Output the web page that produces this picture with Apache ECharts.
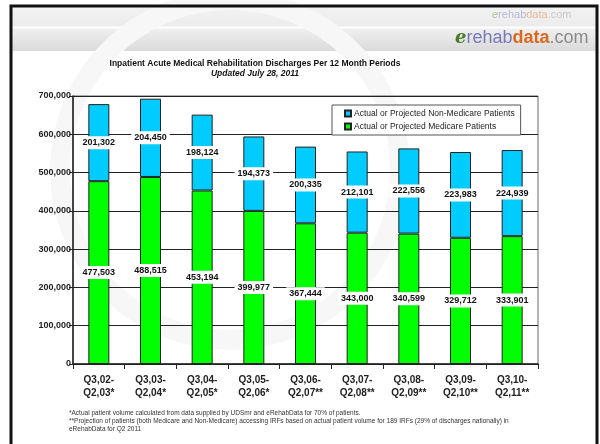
<!DOCTYPE html>
<html>
<head>
<meta charset="utf-8">
<script src="https://cdn.jsdelivr.net/npm/echarts@6/dist/echarts.min.js"></script>
<style>
  html, body { margin: 0; padding: 0; background: #fff; }
  #chart { width: 600px; height: 444px; }
</style>
</head>
<body>
<div id="chart"></div>
<script>
// periods (x axis)
const periods = [
  'Q3,02-\nQ2,03*', 'Q3,03-\nQ2,04*', 'Q3,04-\nQ2,05*', 'Q3,05-\nQ2,06*',
  'Q3,06-\nQ2,07**', 'Q3,07-\nQ2,08**', 'Q3,08-\nQ2,09**', 'Q3,09-\nQ2,10**', 'Q3,10-\nQ2,11**'
];
const medicare = [477503, 488515, 453194, 399977, 367444, 343000, 340599, 329712, 333901];
const nonMedicare = [201302, 204450, 198124, 194373, 200335, 212101, 222556, 223983, 224939];
const medicareName = 'Actual or Projected Medicare Patients';
const nonMedicareName = 'Actual or Projected Non-Medicare Patients';
const footnotes = [
  '*Actual patient volume calculated from data supplied by UDSmr and eRehabData for 70% of patients.',
  '**Projection of patients (both Medicare and Non-Medicare) accessing IRFs based on actual patient volume for 189 IRFs (29% of discharges nationally) in',
  'eRehabData for Q2 2011'
];

const chart = echarts.init(document.getElementById('chart'));
const fmt = v => echarts.format.addCommas(v);

const barLabel = {
  show: true,
  position: 'inside',
  color: '#111',
  fontSize: 9,
  fontWeight: 'bold',
  fontFamily: 'Liberation Sans, Arial',
  backgroundColor: '#fff',
  padding: [2, 3],
  formatter: p => fmt(p.value)
};

let option = {
  animation: false,
  textStyle: { fontFamily: 'Liberation Sans, Arial' },
  title: {
    text: 'Inpatient Acute Medical Rehabilitation Discharges Per 12 Month Periods',
    subtext: 'Updated July 28, 2011',
    left: 250,
    textAlign: 'center',
    top: 54,
    itemGap: 1,
    textStyle: { fontSize: 8.5, fontWeight: 'bold', color: '#111' },
    subtextStyle: { fontSize: 8.5, fontWeight: 'bold', fontStyle: 'italic', color: '#111' }
  },
  legend: {
    orient: 'vertical',
    left: 332,
    top: 105,
    data: [nonMedicareName, medicareName],
    backgroundColor: '#fff',
    borderColor: '#555',
    borderWidth: 1,
    padding: [4, 6, 4, 12],
    itemGap: 4,
    itemWidth: 6,
    itemHeight: 6,
    icon: 'rect',
    textStyle: { fontSize: 8.5, color: '#222', padding: [0, 0, 0, -2] }
  },
  grid: {
    left: 73, right: 62, top: 96, bottom: 80,
    show: true, borderColor: '#666', borderWidth: 1
  },
  xAxis: {
    type: 'category',
    data: periods,
    axisLine: { lineStyle: { color: '#222', width: 1.5 } },
    axisTick: { show: true, length: 5, lineStyle: { color: '#222' } },
    axisLabel: {
      fontSize: 10, fontWeight: 'bold', color: '#222', lineHeight: 13, margin: 10
    }
  },
  yAxis: {
    type: 'value',
    min: 0, max: 700000, interval: 100000,
    axisLine: { show: true, lineStyle: { color: '#222', width: 1.5 } },
    axisTick: { show: true, length: 4, lineStyle: { color: '#222' } },
    axisLabel: {
      fontSize: 9, fontWeight: 'bold', color: '#222', margin: 2,
      formatter: v => fmt(v)
    },
    splitLine: { lineStyle: { color: '#222', width: 1 } }
  },
  series: [
    {
      name: medicareName,
      type: 'bar',
      stack: 'total',
      barWidth: 21,
      data: medicare,
      itemStyle: { color: '#00ff00', borderColor: '#222', borderWidth: 1 },
      label: barLabel
    },
    {
      name: nonMedicareName,
      type: 'bar',
      stack: 'total',
      barWidth: 21,
      data: nonMedicare,
      itemStyle: { color: '#00ccff', borderColor: '#222', borderWidth: 1 },
      label: barLabel
    }
  ],
  graphic: [
    // watermark band at the top
    {
      type: 'rect', z: -10, silent: true,
      shape: { x: 12, y: 7, width: 585, height: 44 },
      style: {
        fill: new echarts.graphic.LinearGradient(0, 0, 0, 1, [
          { offset: 0, color: '#f2f2f2' },
          { offset: 0.42, color: '#ececec' },
          { offset: 0.46, color: '#ffffff' },
          { offset: 0.52, color: '#eeeeee' },
          { offset: 1, color: '#dadada' }
        ])
      }
    },
    {
      type: 'circle', z: -9, silent: true,
      shape: { cx: 230, cy: 170, r: 170 },
      style: { fill: 'none', stroke: '#f7f7f7', lineWidth: 20 }
    },
    // faded small logo
    {
      type: 'text', z: 5, silent: true,
      left: 492, top: 9,
      style: {
        text: '{g|e}{b|rehab}{o|data}{c|.com}',
        rich: {
          g: { fontSize: 11, fill: '#a8c8a0', fontStyle: 'italic' },
          b: { fontSize: 11, fill: '#b8b8d8' },
          o: { fontSize: 11, fill: '#e8b898' },
          c: { fontSize: 11, fill: '#c8c8c8' }
        }
      }
    },
    // main logo
    {
      type: 'text', z: 5, silent: true,
      left: 455, top: 29,
      style: {
        text: '{g|e}{b|rehab}{o|data}{c|.com}',
        rich: {
          g: { fontSize: 18, fill: '#4a7a2a', fontStyle: 'italic', fontWeight: 'bold', fontFamily: 'DejaVu Serif' },
          b: { fontSize: 18, fill: '#7a78b8', fontFamily: 'Liberation Sans' },
          o: { fontSize: 18, fill: '#d86a20', fontWeight: 'bold', fontFamily: 'Liberation Sans' },
          c: { fontSize: 18, fill: '#8a8a8a', fontFamily: 'Liberation Sans' }
        }
      }
    },
    // footnotes
    {
      type: 'group', left: 69, top: 410,
      children: footnotes.map((t, i) => ({
        type: 'text',
        x: 0, y: i * 8,
        style: { text: t, fontSize: 6.5, fill: '#333', fontFamily: 'Liberation Sans' }
      }))
    },
    // slide frame
    {
      type: 'rect', z: 20, silent: true,
      shape: { x: 11, y: 6, width: 586, height: 450 },
      style: { fill: 'none', stroke: '#111', lineWidth: 3 }
    }
  ]
};

chart.setOption(option);
</script>
</body>
</html>
